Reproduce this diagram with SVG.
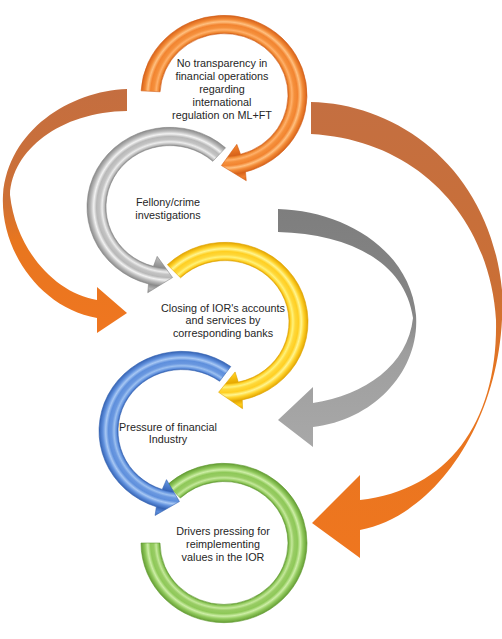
<svg xmlns="http://www.w3.org/2000/svg" width="502" height="639" viewBox="0 0 502 639">
<defs>
<linearGradient id="gL" gradientUnits="userSpaceOnUse" x1="0" y1="89" x2="0" y2="333">
<stop offset="0" stop-color="#c46e40"/><stop offset="0.45" stop-color="#cd7036"/><stop offset="0.62" stop-color="#e8761f"/><stop offset="1" stop-color="#ef7620"/>
</linearGradient>
<linearGradient id="gG" gradientUnits="userSpaceOnUse" x1="0" y1="209" x2="0" y2="447">
<stop offset="0" stop-color="#7e7e7e"/><stop offset="0.45" stop-color="#868686"/><stop offset="0.6" stop-color="#9e9e9e"/><stop offset="1" stop-color="#a8a8a8"/>
</linearGradient>
<linearGradient id="gR" gradientUnits="userSpaceOnUse" x1="0" y1="102" x2="0" y2="558">
<stop offset="0" stop-color="#c46f41"/><stop offset="0.4" stop-color="#ca6f36"/><stop offset="0.6" stop-color="#e67520"/><stop offset="1" stop-color="#ef761f"/>
</linearGradient>
<radialGradient id="rO" gradientUnits="userSpaceOnUse" cx="0" cy="0" r="93">
<stop offset="0" stop-color="#f07f2a"/><stop offset="0.6" stop-color="#f07f2a"/><stop offset="0.688" stop-color="#d7621a"/><stop offset="0.705" stop-color="#f08a34"/><stop offset="0.73" stop-color="#ffb06a"/><stop offset="0.755" stop-color="#f5903c"/><stop offset="0.79" stop-color="#f28430"/><stop offset="0.82" stop-color="#ffc080"/><stop offset="0.85" stop-color="#f28a36"/><stop offset="0.892" stop-color="#d7621a"/><stop offset="0.94" stop-color="#f08030"/><stop offset="1" stop-color="#d7621a"/>
</radialGradient>
<radialGradient id="rG" gradientUnits="userSpaceOnUse" cx="0" cy="0" r="93">
<stop offset="0" stop-color="#b5b5b5"/><stop offset="0.6" stop-color="#b5b5b5"/><stop offset="0.688" stop-color="#8c8c8c"/><stop offset="0.705" stop-color="#bcbcbc"/><stop offset="0.73" stop-color="#ececec"/><stop offset="0.755" stop-color="#c4c4c4"/><stop offset="0.79" stop-color="#b8b8b8"/><stop offset="0.82" stop-color="#f2f2f2"/><stop offset="0.85" stop-color="#bdbdbd"/><stop offset="0.892" stop-color="#8a8a8a"/><stop offset="0.94" stop-color="#b5b5b5"/><stop offset="1" stop-color="#8c8c8c"/>
</radialGradient>
<radialGradient id="rY" gradientUnits="userSpaceOnUse" cx="0" cy="0" r="93">
<stop offset="0" stop-color="#ffcc1a"/><stop offset="0.6" stop-color="#ffcc1a"/><stop offset="0.688" stop-color="#e6a800"/><stop offset="0.705" stop-color="#ffd22a"/><stop offset="0.73" stop-color="#fff27a"/><stop offset="0.755" stop-color="#ffd83a"/><stop offset="0.79" stop-color="#ffcf22"/><stop offset="0.82" stop-color="#fff590"/><stop offset="0.85" stop-color="#ffd22a"/><stop offset="0.892" stop-color="#e3a500"/><stop offset="0.94" stop-color="#ffcc1a"/><stop offset="1" stop-color="#e6a800"/>
</radialGradient>
<radialGradient id="rB" gradientUnits="userSpaceOnUse" cx="0" cy="0" r="93">
<stop offset="0" stop-color="#5b8ddb"/><stop offset="0.6" stop-color="#5b8ddb"/><stop offset="0.688" stop-color="#3766b8"/><stop offset="0.705" stop-color="#6292de"/><stop offset="0.73" stop-color="#9cc0f0"/><stop offset="0.755" stop-color="#6a98e0"/><stop offset="0.79" stop-color="#5e8fdc"/><stop offset="0.82" stop-color="#a8c8f4"/><stop offset="0.85" stop-color="#6292de"/><stop offset="0.892" stop-color="#3563b4"/><stop offset="0.94" stop-color="#5b8ddb"/><stop offset="1" stop-color="#3766b8"/>
</radialGradient>
<radialGradient id="rN" gradientUnits="userSpaceOnUse" cx="0" cy="0" r="93">
<stop offset="0" stop-color="#8cc656"/><stop offset="0.6" stop-color="#8cc656"/><stop offset="0.688" stop-color="#66a035"/><stop offset="0.705" stop-color="#92ca5e"/><stop offset="0.73" stop-color="#c4e89a"/><stop offset="0.755" stop-color="#98cc64"/><stop offset="0.79" stop-color="#8ec858"/><stop offset="0.82" stop-color="#cdeea6"/><stop offset="0.85" stop-color="#92ca5e"/><stop offset="0.892" stop-color="#649d33"/><stop offset="0.94" stop-color="#8cc656"/><stop offset="1" stop-color="#66a035"/>
</radialGradient>
</defs>
<style>
text{font-family:"Liberation Sans",Arial,sans-serif;font-size:10.8px;fill:#262626;text-anchor:middle}
.ring{stroke-width:0.6;stroke-linejoin:round}
</style>
<rect width="502" height="639" fill="#ffffff"/>
<g id="connectors">
<path d="M127,89 C70,91 8,130 3,195 C0,250 40,308 97,318 L97,333 L127,313 L97,287 L97,300 C55,293 16,250 10,195 C12,150 60,112 127,111 Z" fill="url(#gL)"/>
<path d="M278,209 C345,211 410,250 416,315 C420,370 375,420 313,427 L313,447 L278,420 L313,387 L313,403 C365,395 408,365 413,318 C405,262 350,234 278,232 Z" fill="url(#gG)"/>
<path d="M311,102 C400,104 490,170 502,290 C508,410 440,515 360,530 L360,558 L312,523 L360,475 L360,500 C450,490 498,420 496,320 C490,220 420,140 311,134 Z" fill="url(#gR)"/>
</g>
<g id="node5" transform="translate(224,543) scale(1,0.96)">
<path class="ring" d="M-56.61,-60.70 A83,83 0 0 1 83,0 A83,83 0 0 1 -83,0 L-64,0 A64,64 0 0 0 64,0 A64,64 0 0 0 -43.65,-46.81 Z" fill="url(#rN)" stroke="#5f9a30"/>
</g>
<g id="node4" transform="translate(182,431) scale(1,0.96)">
<path class="ring" d="M48.79,-67.15 A83,83 0 1 0 -25.65,78.94 L-26.90,87.98 L-2.57,73.46 L-15.50,50.68 L-19.78,60.87 A64,64 0 1 1 37.62,-51.78 Z" fill="url(#rB)" stroke="#3461b0"/>
</g>
<g id="node3" transform="translate(225,322) scale(1,0.96)">
<path class="ring" d="M-57.66,-59.70 A83,83 0 1 1 17.26,81.18 L17.55,90.31 L-6.41,73.22 L10.11,52.03 L13.31,62.60 A64,64 0 1 0 -44.46,-46.04 Z" fill="url(#rY)" stroke="#dca200"/>
</g>
<g id="node2" transform="translate(170,207) scale(1,0.96)">
<path class="ring" d="M55.54,-61.68 A83,83 0 1 0 -21.48,80.17 L-22.26,89.27 L2.57,73.46 L-12.82,51.43 L-16.56,61.82 A64,64 0 1 1 42.82,-47.56 Z" fill="url(#rG)" stroke="#858585"/>
</g>
<g id="node1" transform="translate(224,95) scale(1,0.96)">
<path class="ring" d="M-82.89,-4.34 A83,83 0 1 1 21.48,80.17 L22.26,89.27 L-2.57,73.46 L12.82,51.43 L16.56,61.82 A64,64 0 1 0 -63.91,-3.35 Z" fill="url(#rO)" stroke="#d05e18"/>
</g>
<g id="labels">
<text x="222" y="66.5">No transparency in</text>
<text x="222" y="79.5">financial operations</text>
<text x="222" y="92.5">regarding</text>
<text x="222" y="105.5">international</text>
<text x="222" y="118.5">regulation on ML+FT</text>
<text x="168" y="206">Fellony/crime</text>
<text x="168" y="218.5">investigations</text>
<text x="223" y="311.5">Closing of IOR's accounts</text>
<text x="223" y="324">and services by</text>
<text x="223" y="336.5">corresponding banks</text>
<text x="168" y="430.5">Pressure of financial</text>
<text x="168" y="443">Industry</text>
<text x="223" y="535">Drivers pressing for</text>
<text x="223" y="548">reimplementing</text>
<text x="223" y="561">values in the IOR</text>
</g>
</svg>
